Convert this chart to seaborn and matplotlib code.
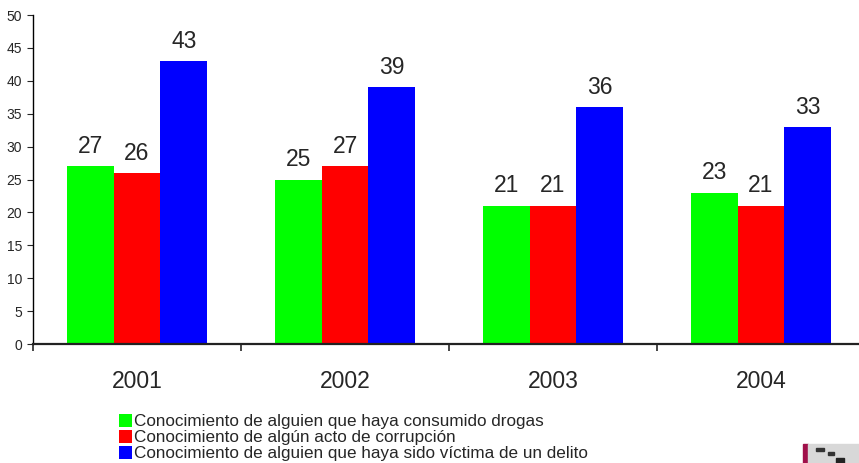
import matplotlib
matplotlib.use("Agg")
import matplotlib.pyplot as plt
from matplotlib.patches import Rectangle
import seaborn as sns
import pandas as pd

years = ["2001", "2002", "2003", "2004"]
series_names = [
    "Conocimiento de alguien que haya consumido drogas",
    "Conocimiento de algún acto de corrupción",
    "Conocimiento de alguien que haya sido víctima de un delito",
]
drogas = [27, 25, 21, 23]
corrupcion = [26, 27, 21, 21]
delito = [43, 39, 36, 33]
series_colors = ["#00FF00", "#FF0000", "#0000FF"]
y_ticks = [0, 5, 10, 15, 20, 25, 30, 35, 40, 45, 50]

rows = []
for name, vals in zip(series_names, [drogas, corrupcion, delito]):
    for y, v in zip(years, vals):
        rows.append({"Año": y, "Serie": name, "Valor": v})
df = pd.DataFrame(rows)

sns.set_style("white")
plt.rcParams["font.family"] = ["Liberation Sans", "DejaVu Sans"]

fig = plt.figure(figsize=(8.59, 4.63), dpi=100)
ax = fig.add_axes([33 / 859, 119 / 463, 832 / 859, 329 / 463])

sns.barplot(data=df, x="Año", y="Valor", hue="Serie", order=years,
            hue_order=series_names, palette=series_colors, width=0.675,
            saturation=1, linewidth=0, ax=ax, legend=True)

for cont in ax.containers:
    ax.bar_label(cont, labels=[f"{v:.0f}" for v in cont.datavalues],
                 padding=6, fontsize=16.5)

ax.set_xlim(-0.5, 3.5)
ax.set_ylim(0, 50)
ax.set_yticks(y_ticks)
ax.set_xlabel("")
ax.set_ylabel("")
ax.tick_params(axis="y", direction="out", length=4, width=0.8,
               labelsize=10, pad=4, left=True)
ax.set_xticks(range(len(years)))
ax.set_xticklabels(years, fontsize=16.5)
ax.set_xticks([i - 0.5 for i in range(len(years) + 1)], minor=True)
ax.tick_params(axis="x", which="major", length=0, pad=19)
ax.tick_params(axis="x", which="minor", direction="out", length=5, width=1.2,
               bottom=True)
for side in ["top", "right"]:
    ax.spines[side].set_visible(False)
ax.spines["left"].set_linewidth(1.0)
ax.spines["left"].set_color("black")
ax.spines["bottom"].set_linewidth(1.6)
ax.spines["bottom"].set_color("#222222")

handles, labels = ax.get_legend_handles_labels()
ax.get_legend().remove()
fig.legend(handles, labels, loc="upper left",
           bbox_to_anchor=(119 / 859, 1 - 414 / 463), frameon=False,
           fontsize=12.3, handlelength=0.75, handleheight=0.75,
           handletextpad=0.15, labelspacing=0.05, borderpad=0,
           borderaxespad=0)

# small corner emblem
fig.patches.append(Rectangle((803 / 859, 0), 5 / 859, 19 / 463,
                             transform=fig.transFigure, color="#A0104A"))
fig.patches.append(Rectangle((808 / 859, 0), 51 / 859, 19 / 463,
                             transform=fig.transFigure, color="#D8D8D8"))
fig.patches.append(Rectangle((816 / 859, 12 / 463), 8 / 859, 3 / 463,
                             transform=fig.transFigure, color="#333333"))
fig.patches.append(Rectangle((828 / 859, 8 / 463), 6 / 859, 3 / 463,
                             transform=fig.transFigure, color="#333333"))
fig.patches.append(Rectangle((836 / 859, 0), 8 / 859, 5 / 463,
                             transform=fig.transFigure, color="#222222"))

fig.savefig("out.png", dpi=100)
